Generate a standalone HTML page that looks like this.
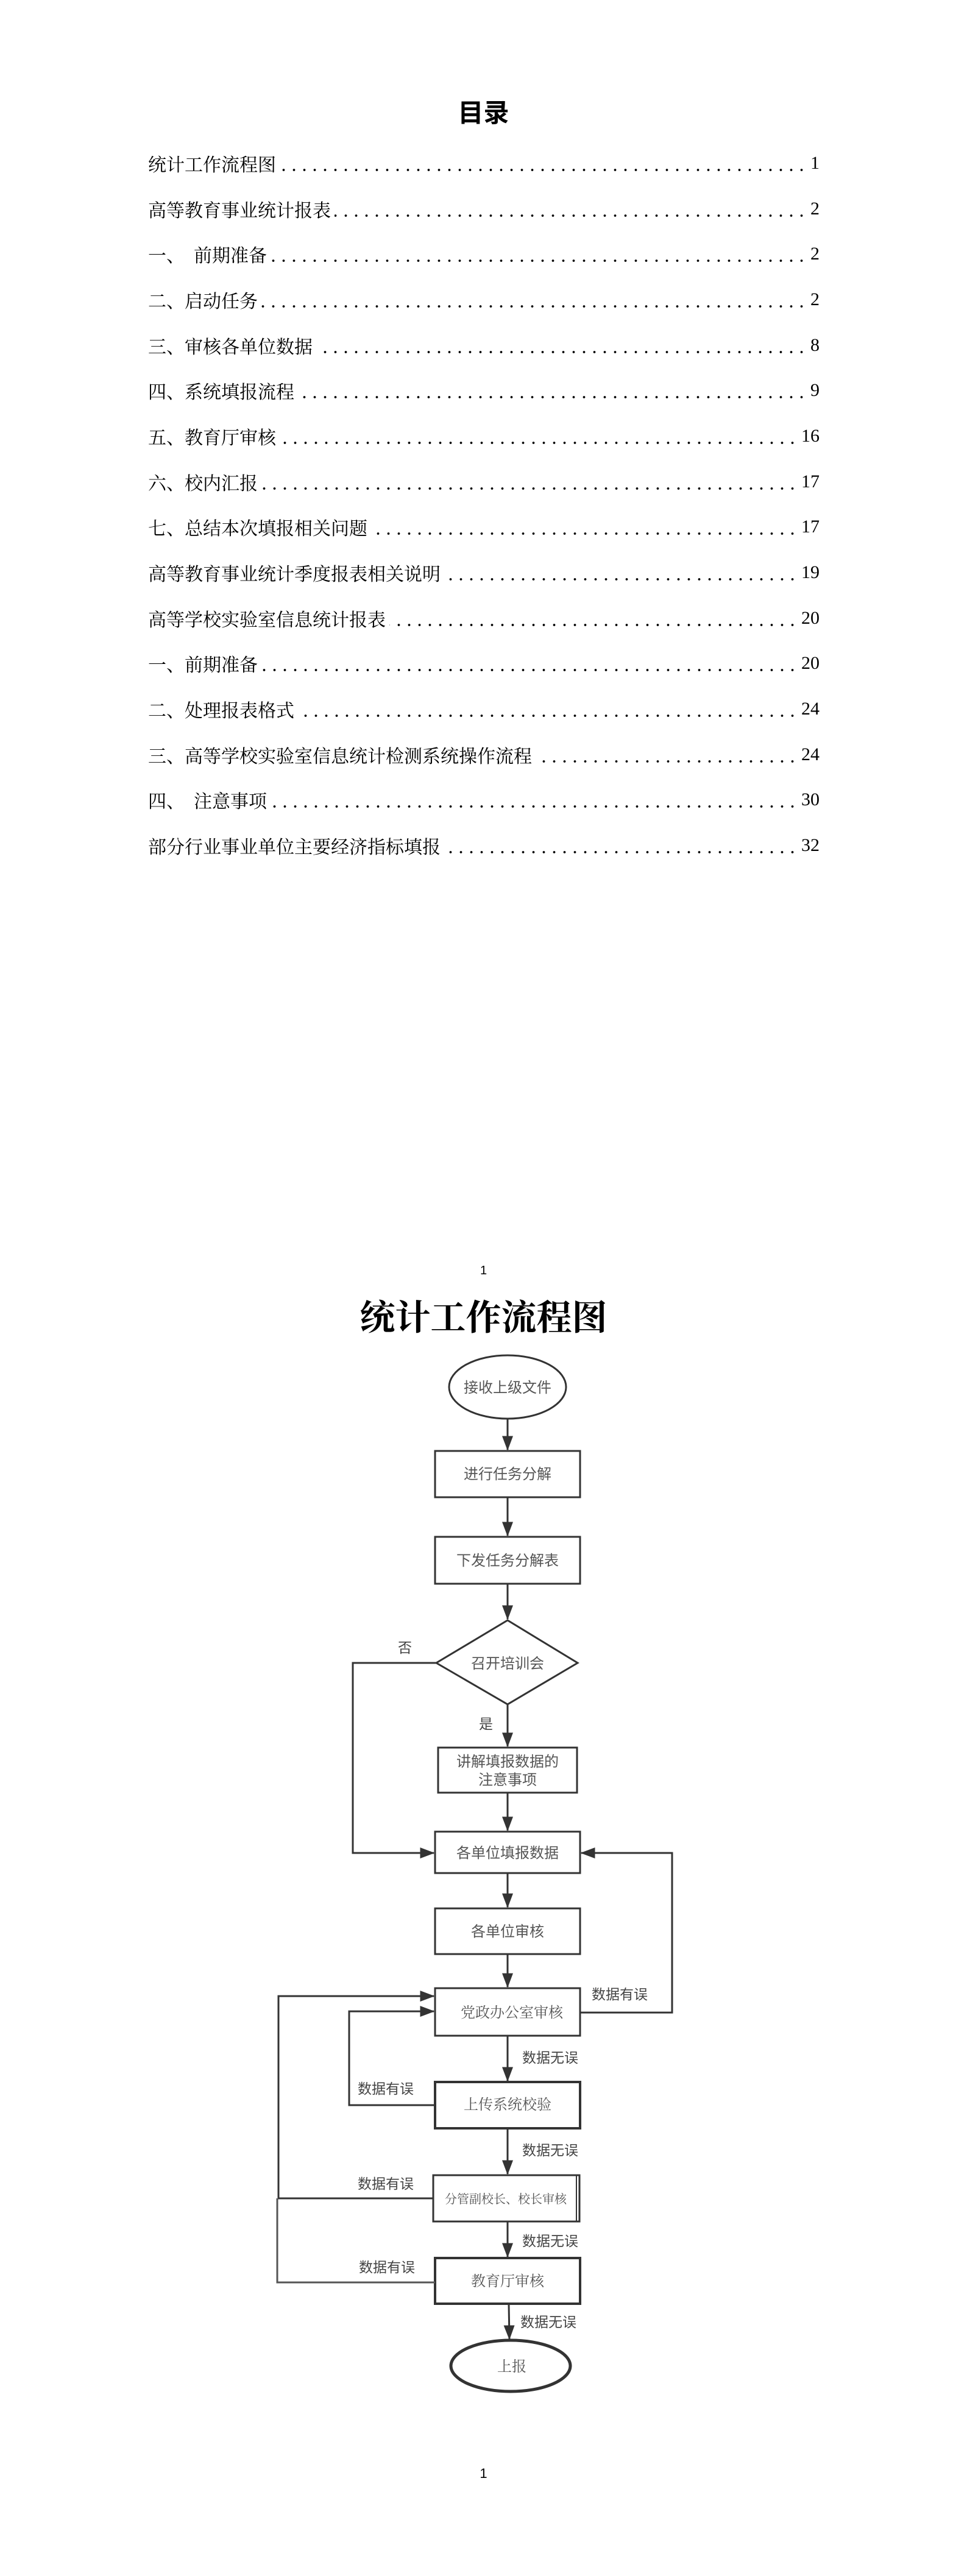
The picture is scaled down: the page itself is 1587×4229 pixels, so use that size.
<!DOCTYPE html>
<html><head><meta charset="utf-8">
<style>
html,body{margin:0;padding:0;background:#fff;}
body{width:1587px;height:4229px;position:relative;overflow:hidden;font-family:"Liberation Serif","Noto Serif CJK SC",serif;}
.t{position:absolute;white-space:nowrap;}
.toc{position:absolute;left:243px;width:1102px;height:40px;display:flex;align-items:center;font-family:"Liberation Serif","Noto Serif CJK SC",serif;font-size:30px;color:#000;}
.toc .lab{flex:none;}
.toc .dots{flex:1;height:40px;margin:0 6px;background-image:radial-gradient(circle,#000 1.6px,transparent 2.2px);background-size:17px 6px;background-repeat:repeat-x;background-position:right 0 bottom 6px;}
.toc .num{flex:none;}
</style></head><body>
<div class="t" style="left:0;width:1587px;text-align:center;top:152px;font-size:42px;font-family:'Liberation Sans','Noto Sans CJK SC',sans-serif;font-weight:bold;">目录</div>

<div class="toc" style="top:248px"><span class="lab">统计工作流程图</span><span class="dots"></span><span class="num">1</span></div>
<div class="toc" style="top:323px"><span class="lab">高等教育事业统计报表</span><span class="dots"></span><span class="num">2</span></div>
<div class="toc" style="top:397px"><span class="lab">一、&nbsp;&nbsp;前期准备</span><span class="dots"></span><span class="num">2</span></div>
<div class="toc" style="top:472px"><span class="lab">二、启动任务</span><span class="dots"></span><span class="num">2</span></div>
<div class="toc" style="top:547px"><span class="lab">三、审核各单位数据</span><span class="dots"></span><span class="num">8</span></div>
<div class="toc" style="top:621px"><span class="lab">四、系统填报流程</span><span class="dots"></span><span class="num">9</span></div>
<div class="toc" style="top:696px"><span class="lab">五、教育厅审核</span><span class="dots"></span><span class="num">16</span></div>
<div class="toc" style="top:771px"><span class="lab">六、校内汇报</span><span class="dots"></span><span class="num">17</span></div>
<div class="toc" style="top:845px"><span class="lab">七、总结本次填报相关问题</span><span class="dots"></span><span class="num">17</span></div>
<div class="toc" style="top:920px"><span class="lab">高等教育事业统计季度报表相关说明</span><span class="dots"></span><span class="num">19</span></div>
<div class="toc" style="top:995px"><span class="lab">高等学校实验室信息统计报表</span><span class="dots"></span><span class="num">20</span></div>
<div class="toc" style="top:1069px"><span class="lab">一、前期准备</span><span class="dots"></span><span class="num">20</span></div>
<div class="toc" style="top:1144px"><span class="lab">二、处理报表格式</span><span class="dots"></span><span class="num">24</span></div>
<div class="toc" style="top:1219px"><span class="lab">三、高等学校实验室信息统计检测系统操作流程</span><span class="dots"></span><span class="num">24</span></div>
<div class="toc" style="top:1293px"><span class="lab">四、&nbsp;&nbsp;注意事项</span><span class="dots"></span><span class="num">30</span></div>
<div class="toc" style="top:1368px"><span class="lab">部分行业事业单位主要经济指标填报</span><span class="dots"></span><span class="num">32</span></div>

<div class="t" style="left:0;width:1587px;text-align:center;top:2075px;font-size:20px;font-family:'Liberation Sans',sans-serif;">1</div>
<div class="t" style="left:0;width:1587px;text-align:center;top:2116px;font-size:58px;font-weight:bold;font-family:'Liberation Serif','Noto Serif CJK SC',serif;">统计工作流程图</div>

<svg width="1587" height="4229" style="position:absolute;left:0;top:0" xmlns="http://www.w3.org/2000/svg">
<defs><marker id="a" markerWidth="8" markerHeight="6" refX="7.5" refY="3" orient="auto" markerUnits="strokeWidth"><path d="M0,0 L8,3 L0,6 Z" fill="#333"/></marker></defs>
<g fill="none" stroke="#333" stroke-width="3">
<ellipse cx="833" cy="2277" rx="96" ry="52"/>
<rect x="714" y="2382" width="238" height="76"/>
<rect x="714" y="2523" width="238" height="77"/>
<polygon points="833,2660 948,2730 833,2798 716,2730"/>
<rect x="719" y="2869" width="228" height="74"/>
<rect x="714" y="3007" width="238" height="68"/>
<rect x="714" y="3133" width="238" height="75"/>
<rect x="714" y="3264" width="238" height="78"/>
<rect x="714" y="3418" width="238" height="76" stroke-width="4"/>
<rect x="711" y="3571" width="240" height="76"/>
<line x1="946" y1="3571" x2="946" y2="3647" stroke-width="2"/>
<rect x="714" y="3707" width="238" height="75" stroke-width="4"/>
<ellipse cx="838" cy="3884" rx="98" ry="42" stroke-width="5"/>

<line x1="833" y1="2329" x2="833" y2="2380" marker-end="url(#a)"/>
<line x1="833" y1="2458" x2="833" y2="2521" marker-end="url(#a)"/>
<line x1="833" y1="2600" x2="833" y2="2658" marker-end="url(#a)"/>
<line x1="833" y1="2798" x2="833" y2="2867" marker-end="url(#a)"/>
<line x1="833" y1="2943" x2="833" y2="3005" marker-end="url(#a)"/>
<line x1="833" y1="3075" x2="833" y2="3131" marker-end="url(#a)"/>
<line x1="833" y1="3208" x2="833" y2="3262" marker-end="url(#a)"/>
<line x1="833" y1="3342" x2="833" y2="3416" marker-end="url(#a)"/>
<line x1="833" y1="3494" x2="833" y2="3569" marker-end="url(#a)"/>
<line x1="833" y1="3647" x2="833" y2="3705" marker-end="url(#a)"/>
<line x1="835" y1="3782" x2="836" y2="3840" marker-end="url(#a)"/>

<polyline points="716,2730 579,2730 579,3042 712,3042" marker-end="url(#a)"/>
<polyline points="952,3304 1103,3304 1103,3042 954,3042" marker-end="url(#a)"/>
<polyline points="714,3456 573,3456 573,3302 712,3302" marker-end="url(#a)"/>
<polyline points="711,3609 457,3609 457,3277 712,3277" marker-end="url(#a)"/>
<polyline points="714,3747 455,3747 455,3609" stroke="#555"/>
</g>
<g font-family="'Liberation Sans','Noto Sans CJK SC',sans-serif" fill="#555" font-size="24" text-anchor="middle">
<text x="833" y="2286">接收上级文件</text>
<text x="833" y="2428">进行任务分解</text>
<text x="833" y="2570">下发任务分解表</text>
<text x="833" y="2739">召开培训会</text>
<text x="833" y="2900">讲解填报数据的</text>
<text x="833" y="2930">注意事项</text>
<text x="833" y="3050">各单位填报数据</text>
<text x="833" y="3179">各单位审核</text>
<text x="840" y="3312" font-family="'Liberation Serif','Noto Serif CJK SC',serif">党政办公室审核</text>
<text x="833" y="3463" font-family="'Liberation Serif','Noto Serif CJK SC',serif">上传系统校验</text>
<text x="830" y="3617" font-size="20" font-family="'Liberation Serif','Noto Serif CJK SC',serif">分管副校长、校长审核</text>
<text x="833" y="3753" font-family="'Liberation Serif','Noto Serif CJK SC',serif">教育厅审核</text>
<text x="840" y="3893" font-family="'Liberation Serif','Noto Serif CJK SC',serif">上报</text>
</g>
<g font-family="'Liberation Sans','Noto Sans CJK SC',sans-serif" fill="#444" font-size="23">
<text x="653" y="2713">否</text>
<text x="786" y="2838">是</text>
<text x="971" y="3282">数据有误</text>
<text x="857" y="3386">数据无误</text>
<text x="587" y="3437">数据有误</text>
<text x="857" y="3538">数据无误</text>
<text x="587" y="3593">数据有误</text>
<text x="857" y="3687">数据无误</text>
<text x="589" y="3730">数据有误</text>
<text x="854" y="3820">数据无误</text>
</g>
</svg>
<div class="t" style="left:0;width:1587px;text-align:center;top:4048px;font-size:22px;font-family:'Liberation Sans',sans-serif;">1</div>
</body></html>
